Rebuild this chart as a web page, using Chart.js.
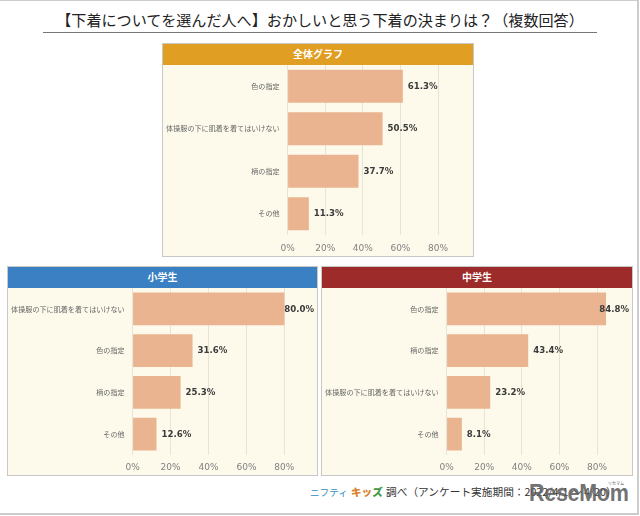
<!DOCTYPE html>
<html lang="ja">
<head>
<meta charset="utf-8">
<script src="https://cdn.jsdelivr.net/npm/chart.js@4"></script>
<style>
  html, body { margin: 0; padding: 0; background: #fff; }
  #page { position: relative; width: 640px; height: 516px; overflow: hidden; font-family: "Noto Sans CJK JP", sans-serif; }
  #frame { position: absolute; left: -2px; top: 0; width: 639px; height: 512px; border: 1px solid #ccc; border-width: 1px 2px 2px 0; }
  #title { position: absolute; left: 0; width: 640px; top: 8px; text-align: center; font-size: 15.1px; line-height: 22px; color: #222; white-space: nowrap; }
  #rule { position: absolute; left: 43px; top: 31.5px; width: 554px; height: 1px; background: #777; }
  .panel { position: absolute; background: #fdfaec; box-shadow: 0 0 0 1px #c8c8c8; }
  .head { height: 21px; line-height: 20px; color: #fff; font-size: 10px; font-weight: 700; text-align: center; }
  canvas { position: absolute; left: 0; top: 21px; }
  .foot { position: absolute; top: 484px; line-height: 16px; white-space: nowrap; }
  #nifty { left: 310px; font-size: 9.6px; color: #2f8fc0; }
  #kids { left: 351px; font-size: 10.6px; font-weight: 900; }
  #kids .b { color: #d9822b; }
  #kids .c { color: #3f9a3f; }
  #survey { left: 386px; font-size: 10.7px; color: #333; }
  #logo { position: absolute; left: 529px; top: 480px; font: 700 21.5px/24px "Liberation Sans", sans-serif; color: rgba(95,95,95,.9); letter-spacing: -.3px; transform: scaleY(1.08); transform-origin: left top; }
  #kana { position: absolute; left: 608px; top: 481px; font-size: 4px; line-height: 5px; color: #555; }
</style>
</head>
<body>
<div id="page">
  <div id="frame"></div>
  <div id="title">【下着についてを選んだ人へ】おかしいと思う下着の決まりは？（複数回答）</div>
  <div id="rule"></div>

  <div class="panel" style="left:163px;top:44px;width:310px;height:212px">
    <div class="head" style="background:#e09e22">全体グラフ</div>
    <canvas id="allChart" width="310" height="191"></canvas>
  </div>
  <div class="panel" style="left:8px;top:267px;width:309px;height:208px">
    <div class="head" style="background:#3a80c3">小学生</div>
    <canvas id="elemChart" width="309" height="187"></canvas>
  </div>
  <div class="panel" style="left:322px;top:267px;width:310px;height:208px">
    <div class="head" style="background:#9c2b2a">中学生</div>
    <canvas id="juniorChart" width="310" height="187"></canvas>
  </div>

  <div class="foot" id="nifty">ニフティ</div>
  <div class="foot" id="kids"><span class="b">キッ</span><span class="c">ズ</span></div>
  <div class="foot" id="survey">調べ（アンケート実施期間：2022/4/1 ～ 4/20）</div>
  <div id="logo">ReseMom</div>
  <div id="kana">リセマム</div>
</div>

<script>
const allLabels = ['色の指定', '体操服の下に肌着を着てはいけない', '柄の指定', 'その他'];
const allValues = [61.3, 50.5, 37.7, 11.3];

const elemLabels = ['体操服の下に肌着を着てはいけない', '色の指定', '柄の指定', 'その他'];
const elemValues = [80.0, 31.6, 25.3, 12.6];

const juniorLabels = ['色の指定', '柄の指定', '体操服の下に肌着を着てはいけない', 'その他'];
const juniorValues = [84.8, 43.4, 23.2, 8.1];

// draws the "61.3%" text next to each bar, pulled back inside when it would run off the panel
const valueLabels = {
  id: 'valueLabels',
  afterDatasetsDraw(chart) {
    const { ctx, chartArea } = chart;
    const bars = chart.getDatasetMeta(0).data;
    ctx.save();
    ctx.font = 'bold 8.6px "DejaVu Sans"';
    ctx.fillStyle = '#3a3a3a';
    ctx.textAlign = 'left';
    ctx.textBaseline = 'middle';
    bars.forEach((bar, i) => {
      const text = `${chart.data.datasets[0].data[i].toFixed(1)}%`;
      const x = Math.min(bar.x + 5, chartArea.right - 3 - ctx.measureText(text).width);
      ctx.fillText(text, x, bar.y + 0.5);
    });
    ctx.restore();
  },
};

const drawBars = (id, labels, values, axisWidth, xMax, xAxisHeight, tickPad) => {
  new Chart(document.getElementById(id), {
    type: 'bar',
    data: {
      labels,
      datasets: [{
        data: values,
        backgroundColor: '#e9b48f',
        categoryPercentage: 1,
        barPercentage: 0.78,
      }],
    },
    plugins: [valueLabels],
    options: {
      indexAxis: 'y',
      responsive: false,
      animation: false,
      layout: { padding: 0 },
      plugins: { legend: { display: false }, tooltip: { enabled: false } },
      scales: {
        x: {
          min: 0,
          max: xMax,
          afterFit: (scale) => { scale.height = xAxisHeight; },
          grid: { color: '#e7e4d6', drawTicks: false },
          border: { display: false },
          ticks: {
            stepSize: 20,
            includeBounds: false,
            maxRotation: 0,
            padding: tickPad,
            color: '#808080',
            font: { family: 'DejaVu Sans', size: 9 },
            callback: (v) => `${v}%`,
          },
        },
        y: {
          afterFit: (scale) => {
            scale.width = axisWidth;
            scale.paddingTop = 0;
            scale.paddingBottom = 0;
          },
          grid: { display: false },
          border: { display: false },
          ticks: {
            padding: 0,
            color: '#666',
            font: { family: 'Noto Sans CJK JP', size: 7.1 },
          },
        },
      },
    },
  });
};

drawBars('allChart', allLabels, allValues, 124.6, 98.6, 21, 8);
drawBars('elemChart', elemLabels, elemValues, 124.6, 97.2, 20, 7);
drawBars('juniorChart', juniorLabels, juniorValues, 124.6, 98.6, 20, 7);
</script>
</body>
</html>
